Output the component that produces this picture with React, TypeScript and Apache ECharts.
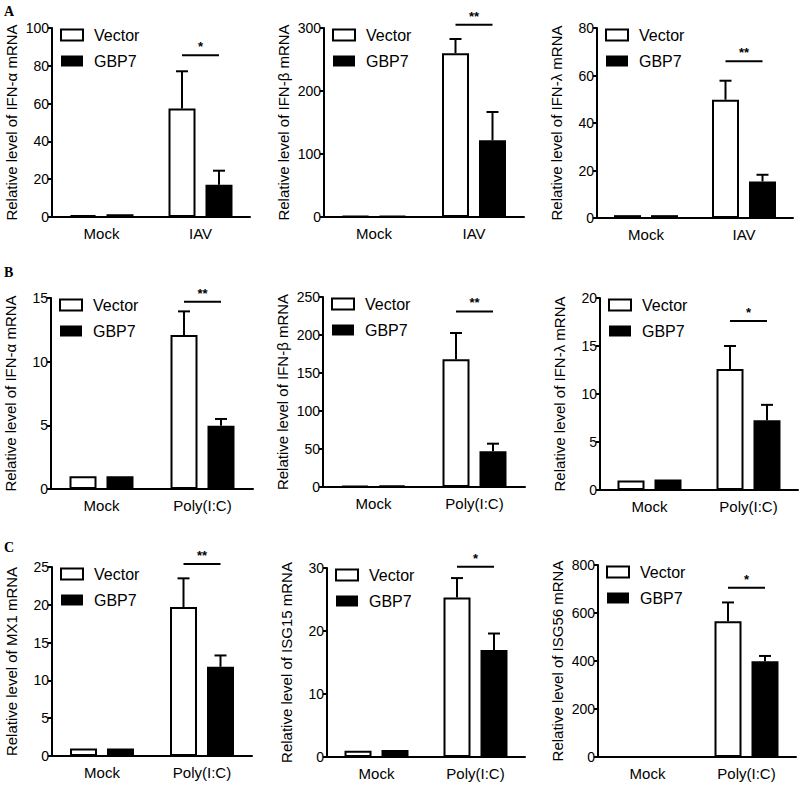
import React, { useEffect, useRef } from 'react';
import * as echarts from 'echarts';

// ---------------- data ----------------
const categoriesA = ['Mock', 'IAV'];
const categoriesBC = ['Mock', 'Poly(I:C)'];
const seriesNames = ['Vector', 'GBP7'];
const panelLetters = ['A', 'B', 'C'];
const yAxisTitles = [
  'Relative level of IFN-α mRNA',
  'Relative level of IFN-β mRNA',
  'Relative level of IFN-λ mRNA',
  'Relative level of IFN-α mRNA',
  'Relative level of IFN-β mRNA',
  'Relative level of IFN-λ mRNA',
  'Relative level of MX1 mRNA',
  'Relative level of ISG15 mRNA',
  'Relative level of ISG56 mRNA',
];
const yMaxValues = [100, 300, 80, 15, 250, 20, 25, 30, 800];
const yIntervals = [20, 100, 20, 5, 50, 5, 5, 10, 200];
const vectorMeans = [
  [1.0, 57.4], [1.2, 260], [1.2, 49.8],
  [1.0, 12.1], [1.2, 168], [1.0, 12.6],
  [1.0, 19.7], [1.0, 25.3], [1.0, 566],
];
const vectorErrTops = [
  [1.2, 77.1], [1.2, 282.5], [1.3, 57.8],
  [1.05, 13.95], [1.2, 202.6], [1.0, 15.0],
  [1.0, 23.5], [1.0, 28.4], [1.0, 644],
];
const gbp7Means = [
  [1.5, 17.0], [1.5, 121.7], [1.2, 15.4],
  [1.0, 4.96], [2.0, 47], [1.1, 7.27],
  [1.0, 11.8], [1.1, 17.0], [1.0, 399],
];
const gbp7ErrTops = [
  [1.6, 24.5], [1.5, 166.7], [1.3, 18.2],
  [1.0, 5.5], [2.0, 57], [1.1, 8.87],
  [1.0, 13.3], [1.1, 19.6], [1.0, 421],
];
const sigLevels = [85.6, 305, 66, 14.7, 231, 17.6, 25.4, 30.2, 705];
const sigMarks = ['*', '**', '**', '**', '**', '*', '**', '*', '*'];

// ---------------- layout ----------------
const gridBoxes = [
  { left: 52, top: 28, width: 198, height: 189 },
  { left: 324, top: 28, width: 200, height: 189 },
  { left: 597, top: 28, width: 196, height: 190 },
  { left: 51, top: 298, width: 202, height: 191 },
  { left: 323, top: 297, width: 202, height: 190 },
  { left: 600, top: 298, width: 198, height: 192 },
  { left: 52, top: 567, width: 200, height: 189 },
  { left: 327, top: 568, width: 198, height: 189 },
  { left: 598, top: 565, width: 198, height: 192 },
];
const letterTops = [4, 265, 540];
const FONT = '"Liberation Sans", Arial, Helvetica, sans-serif';
const BAR_W = 27;
const BAR_OFFSET = 18.5;

function errorRender(side: number) {
  return (params: any, api: any) => {
    const cat = api.value(0);
    const base = api.coord([cat, api.value(1)]);
    const top = api.coord([cat, api.value(2)]);
    if (base[1] - top[1] < 1) return null;
    const cx = base[0] + side * BAR_OFFSET;
    const st = { stroke: '#000', lineWidth: 2 };
    return {
      type: 'group',
      children: [
        { type: 'line', shape: { x1: cx, y1: base[1], x2: cx, y2: top[1] }, style: st },
        { type: 'line', shape: { x1: cx - 6, y1: top[1], x2: cx + 6, y2: top[1] }, style: st },
      ],
    };
  };
}

function sigRender(mark: string) {
  return (params: any, api: any) => {
    const p = api.coord([api.value(0), api.value(1)]);
    return {
      type: 'group',
      children: [
        {
          type: 'line',
          shape: { x1: p[0] - BAR_OFFSET, y1: p[1], x2: p[0] + BAR_OFFSET, y2: p[1] },
          style: { stroke: '#000', lineWidth: 2 },
        },
        {
          type: 'text',
          x: p[0],
          y: p[1] - 2,
          style: {
            text: mark,
            align: 'center',
            verticalAlign: 'bottom',
            fontSize: 13,
            fontWeight: 'bold',
            fontFamily: FONT,
            fill: '#000',
          },
        },
      ],
    };
  };
}

function buildOption() {
  const grids: any[] = [];
  const xAxes: any[] = [];
  const yAxes: any[] = [];
  const legends: any[] = [];
  const series: any[] = [];

  for (let i = 0; i < 9; i++) {
    const g = gridBoxes[i];
    grids.push({ ...g, containLabel: false });
    xAxes.push({
      type: 'category',
      gridIndex: i,
      data: i < 3 ? categoriesA : categoriesBC,
      axisLine: { lineStyle: { color: '#000', width: 2 } },
      axisTick: { alignWithLabel: true, length: 5, lineStyle: { color: '#000', width: 2 } },
      axisLabel: { fontSize: 15, margin: 9, color: '#000', fontFamily: FONT },
      splitLine: { show: false },
    });
    yAxes.push({
      type: 'value',
      gridIndex: i,
      min: 0,
      max: yMaxValues[i],
      interval: yIntervals[i],
      name: yAxisTitles[i],
      nameLocation: 'middle',
      nameGap: 33,
      nameTextStyle: { fontSize: 15, color: '#000', fontFamily: FONT },
      axisLine: { show: true, lineStyle: { color: '#000', width: 2 } },
      axisTick: { show: true, length: 4, lineStyle: { color: '#000', width: 2 } },
      axisLabel: { fontSize: 14, margin: 3, color: '#000', fontFamily: FONT },
      splitLine: { show: false },
    });
    legends.push({
      orient: 'vertical',
      left: g.left + 8,
      top: g.top - 1,
      itemWidth: 22,
      itemHeight: 11,
      itemGap: 10,
      icon: 'rect',
      selectedMode: false,
      padding: 0,
      textStyle: { fontSize: 16, color: '#000', fontFamily: FONT, padding: [0, 0, 0, 6] },
      data: [
        { name: seriesNames[0], itemStyle: { color: '#fff', borderColor: '#000', borderWidth: 2 } },
        { name: seriesNames[1], itemStyle: { color: '#000', borderColor: '#000', borderWidth: 0 } },
      ],
    });
    series.push({
      type: 'bar',
      name: seriesNames[0],
      xAxisIndex: i,
      yAxisIndex: i,
      barWidth: BAR_W,
      barGap: '37%',
      data: vectorMeans[i],
      itemStyle: { color: '#fff', borderColor: '#000', borderWidth: 2 },
      silent: true,
    });
    series.push({
      type: 'bar',
      name: seriesNames[1],
      xAxisIndex: i,
      yAxisIndex: i,
      barWidth: BAR_W,
      barGap: '37%',
      data: gbp7Means[i],
      itemStyle: { color: '#000', borderColor: '#000', borderWidth: 2 },
      silent: true,
    });
    series.push({
      type: 'custom',
      xAxisIndex: i,
      yAxisIndex: i,
      renderItem: errorRender(-1),
      data: vectorMeans[i].map((m, j) => [j, m, vectorErrTops[i][j]]),
      z: 5,
      silent: true,
    });
    series.push({
      type: 'custom',
      xAxisIndex: i,
      yAxisIndex: i,
      renderItem: errorRender(1),
      data: gbp7Means[i].map((m, j) => [j, m, gbp7ErrTops[i][j]]),
      z: 5,
      silent: true,
    });
    series.push({
      type: 'custom',
      xAxisIndex: i,
      yAxisIndex: i,
      renderItem: sigRender(sigMarks[i]),
      data: [[1, sigLevels[i]]],
      z: 5,
      clip: false,
      silent: true,
    });
  }

  const graphic = panelLetters.map((letter, k) => ({
    type: 'text',
    left: 4,
    top: letterTops[k],
    style: {
      text: letter,
      fontSize: 14,
      fontWeight: 'bold',
      fontFamily: '"Liberation Serif", "Times New Roman", serif',
      fill: '#000',
    },
  }));

  return {
    animation: false,
    backgroundColor: '#fff',
    grid: grids,
    xAxis: xAxes,
    yAxis: yAxes,
    legend: legends,
    series,
    graphic,
  };
}

export default function App() {
  const ref = useRef<HTMLDivElement>(null);
  useEffect(() => {
    if (!ref.current) return;
    const chart = echarts.init(ref.current, undefined, { renderer: 'svg' });
    chart.setOption(buildOption() as any);
    return () => chart.dispose();
  }, []);
  return (
    <div
      ref={ref}
      style={{ position: 'absolute', left: 0, top: 0, width: 800, height: 785 }}
    />
  );
}
